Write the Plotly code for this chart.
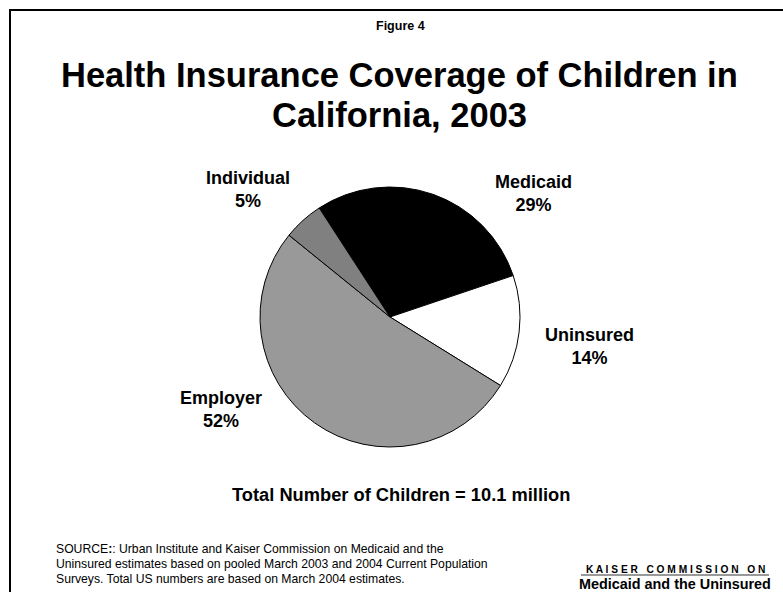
import plotly.graph_objects as go

# Coverage shares of children in California, 2003 (percent)
categories = ["Medicaid", "Uninsured", "Employer", "Individual"]
shares = [29, 14, 52, 5]
slice_colors = ["#000000", "#ffffff", "#999999", "#808080"]

W, H = 783, 592
FONT = "Liberation Sans, Arial, sans-serif"


def px(x):
    return x / W


def py(y):
    return 1 - y / H


fig = go.Figure()

# Pie placed in a square domain (center ~ (390, 317), radius ~130 px)
cx, cy, r = 390, 317, 130
fig.add_trace(go.Pie(
    labels=categories,
    values=shares,
    sort=False,
    direction="clockwise",
    rotation=-33,
    marker=dict(colors=slice_colors, line=dict(color="#000000", width=1)),
    textinfo="none",
    hoverinfo="label+percent",
    showlegend=False,
    domain=dict(x=[px(cx - r), px(cx + r)], y=[py(cy + r), py(cy - r)]),
))

# Slice labels
label_pos = {
    "Medicaid": (533, 194),
    "Uninsured": (589, 346),
    "Employer": (221, 409),
    "Individual": (248, 189),
}
for name, val in zip(categories, shares):
    x, y = label_pos[name]
    fig.add_annotation(
        x=px(x), y=py(y), xref="paper", yref="paper",
        text=f"<b>{name}<br>{val}%</b>", showarrow=False,
        font=dict(family=FONT, size=18, color="#000000"),
        xanchor="center", yanchor="middle", align="center",
    )

annotations = [
    dict(text="<b>Figure 4</b>", x=400, y=26, size=12.5),
    dict(text="<b>Health Insurance Coverage of Children in</b>", x=399, y=75, size=34.5),
    dict(text="<b>California, 2003</b>", x=399, y=115, size=34.5),
    dict(text="<b>Total Number of Children = 10.1 million</b>", x=401, y=494, size=18.3),
]
for a in annotations:
    fig.add_annotation(
        x=px(a["x"]), y=py(a["y"]), xref="paper", yref="paper",
        text=a["text"], showarrow=False,
        font=dict(family=FONT, size=a["size"], color="#000000"),
        xanchor="center", yanchor="middle",
    )

source_lines = [
    "SOURCE<b>:</b>: Urban Institute and Kaiser Commission on Medicaid and the",
    "Uninsured estimates based on pooled March 2003 and 2004 Current Population",
    "Surveys. Total US numbers are based on March 2004 estimates.",
]
for i, line in enumerate(source_lines):
    fig.add_annotation(
        x=px(54), y=py(549 + 15 * i), xref="paper", yref="paper",
        text=line, showarrow=False,
        font=dict(family=FONT, size=12.2, color="#000000"),
        xanchor="left", yanchor="middle",
    )

# Publisher logo text
fig.add_annotation(
    x=px(675), y=py(569), xref="paper", yref="paper",
    text="<b>K A I S E R   C O M M I S S I O N   O N</b>", showarrow=False,
    font=dict(family=FONT, size=10.2, color="#000000"),
    xanchor="center", yanchor="middle",
)
fig.add_annotation(
    x=px(675), y=py(584), xref="paper", yref="paper",
    text="<b>Medicaid and the Uninsured</b>", showarrow=False,
    font=dict(family=FONT, size=14.4, color="#000000"),
    xanchor="center", yanchor="middle",
)

shapes = [
    # underline below the logo's first line
    dict(type="line", x0=px(581), x1=px(769), y0=py(575), y1=py(575),
         line=dict(color="#777777", width=1.5)),
    # slide frame (top and left edges)
    dict(type="line", x0=px(9), x1=1, y0=py(10), y1=py(10),
         line=dict(color="#000000", width=2)),
    dict(type="line", x0=px(10), x1=px(10), y0=py(9), y1=0,
         line=dict(color="#000000", width=2)),
]

fig.update_layout(
    width=W, height=H,
    margin=dict(l=0, r=0, t=0, b=0),
    paper_bgcolor="#ffffff",
    plot_bgcolor="#ffffff",
    shapes=shapes,
)

fig.write_html("out.html")
